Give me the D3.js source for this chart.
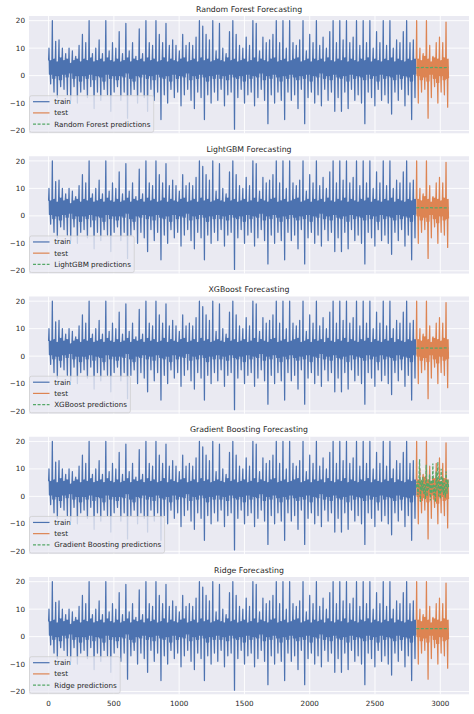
<!DOCTYPE html>
<html>
<head>
<meta charset="utf-8">
<script src="https://cdn.jsdelivr.net/npm/d3@7"></script>
<style>
  body { margin: 0; background: #fff; }
  text { font-family: "DejaVu Sans", sans-serif; fill: #262626; }
</style>
</head>
<body>
<svg width="474" height="714"></svg>
<script>
var models = ["Random Forest", "LightGBM", "XGBoost", "Gradient Boosting", "Ridge"];
var xTicks = [0, 500, 1000, 1500, 2000, 2500, 3000];
var yTicks = [-20, -10, 0, 10, 20];

// train: one row = 10 cycles of the series (spike top, spike bottom, band edges)
var trainUp = [
  10, 20, 12.5, 13, 10, 8, 10, 9, 7, 11,
  15, 12, 20, 8, 10, 13, 8, 20, 9, 12,
  10, 16, 8, 19, 9, 12, 7, 17, 8, 20,
  12, 11, 20, 15, 12, 19, 11, 13, 11, 9,
  15, 11, 12, 11, 14, 20, 18, 15, 13, 20,
  9, 19, 10, 8, 16, 20, 15, 11, 10, 14,
  11, 20, 19, 9, 14, 12, 13, 15, 20, 12,
  20, 10, 20, 12, 11, 13, 20, 9, 15, 12,
  20, 11, 14, 10, 16, 20, 12, 20, 13, 20,
  12, 14, 20, 11, 20, 12, 20, 10, 16, 12,
  20, 11, 20, 10, 13, 12, 16, 20, 12, 13
];
var trainDown = [
  -3, -6, -8, -4, -5, -7, -9, -4, -10, -6,
  -5, -8, -4, -12, -6, -9, -5, -7, -13, -6,
  -4, -9, -6, -15.5, -7, -5, -10, -6, -8, -13,
  -5, -9, -6, -16, -7, -10, -5, -8, -6, -11,
  -7, -5, -9, -12, -6, -8, -16, -7, -10, -6,
  -9, -5, -11, -7, -6, -19.5, -8, -5, -10, -7,
  -6, -11, -8, -5, -9, -17.5, -7, -10, -6, -9,
  -16, -6, -9, -7, -12, -5, -17.5, -8, -6, -10,
  -7, -11, -5, -9, -6, -13, -8, -13, -6, -12,
  -5, -9, -7, -10, -17.5, -6, -8, -11, -5, -9,
  -7, -10, -14, -6, -9, -5, -11, -7, -16, -8
];
var trainHi = [
  5.5, 6, 5, 6.5, 5.5, 6, 4.5, 5.5, 6, 5,
  6, 5.5, 6.5, 5, 5.5, 6, 5, 6.5, 5.5, 5,
  6, 5, 5.5, 6.5, 5, 6, 5.5, 6, 5, 6.5,
  5.5, 6, 5, 5.5, 6.5, 5, 6, 5.5, 5, 6,
  6.5, 5, 5.5, 6, 5, 6.5, 5.5, 6, 5, 5.5,
  6, 5.5, 5, 6.5, 5.5, 6, 5, 5.5, 6, 5,
  5.5, 6.5, 5, 6, 5.5, 5, 6, 6.5, 5, 5.5,
  6, 5, 5.5, 6, 6.5, 5, 5.5, 6, 5, 6,
  5.5, 6, 5, 6.5, 5.5, 5, 6, 5.5, 6.5, 5,
  6, 5.5, 5, 6, 5.5, 6.5, 5, 6, 5.5, 5,
  6, 5.5, 6.5, 5, 6, 5.5, 5, 6, 5.5, 6
];
var trainLo = [
  0.5, -1, 0, -1.5, 0.5, -0.5, 1, -1, 0, -2,
  0, -1, 0.5, -1.5, 0, -0.5, -2, 0.5, -1, 0,
  -1.5, 0, -0.5, 1, -1, -2, 0, -0.5, 0.5, -1,
  0, -1.5, 0.5, -0.5, -1, 0, -2, 0.5, -1, 0,
  -0.5, 1, -1.5, 0, -1, 0.5, -0.5, -2, 0, -1,
  0.5, -1, 0, -1.5, 0.5, -0.5, -1, 0, -2, 0.5,
  -1, 0, -0.5, 1, -1.5, 0, -1, 0.5, -0.5, -2,
  0, -1, 0.5, -0.5, -1.5, 0, -1, 0.5, -2, 0,
  -0.5, 1, -1, 0, -1.5, 0.5, -0.5, -1, 0, -2,
  0.5, -1, 0, -0.5, -1.5, 0.5, -1, 0, -2, 0.5,
  -1, 0, -0.5, -1.5, 0.5, -1, 0, -0.5, -2, 0.5
];

// test: 10 cycles
var testUp = [20, 10, 8, 20, 11, 7, 12, 14, 12, 19.5];
var testDown = [-10, -6, -5, -15.5, -8, -4, -10, -6, -7, -11.5];
var testHi = [6, 5.5, 7, 6, 5, 6.5, 6, 5.5, 6.5, 6];
var testLo = [0, -1.5, -0.5, -2, 0.5, -1, -2.5, 0, -1.5, -1];

// predictions over the test range
var rfPred = [2.9, 2.9, 3.0, 2.9, 2.9, 3.0, 2.9, 2.9, 2.9, 3.0];
var lgbmPred = [2.9, 3.0, 2.9, 2.9, 3.0, 2.9, 2.9, 3.0, 2.9, 2.9];
var xgbPred = [2.9, 2.9, 2.9, 3.0, 2.9, 2.9, 2.9, 2.9, 3.0, 2.9];
var gbPred = [
  3.2, 5.5, 0.5, 4,
  13.5, -2, 6, 2,
  7, 1, 4.5, -1,
  11.5, 0, 5, 2.5,
  8, -1.5, 6, 1,
  12, 0.5, 4, -2,
  9, 2, 12.5, 0,
  6.5, -1, 10, 1.5,
  7, 0.5, 5, -0.5,
  9, 1, 6, 3
];
var ridgePred = [2.9, 2.9, 2.9, 2.9, 2.9, 2.9, 2.9, 2.9, 2.9, 2.9];
var preds = [rfPred, lgbmPred, xgbPred, gbPred, ridgePred];

var trainStart = 0, trainCycle = 25.6;
var testStart = 2816, testCycle = 25, testEnd = 3064;

var blue = "#4c72b0", orange = "#dd8452", green = "#55a868";

var svg = d3.select("svg");
var left = 29, right = 469, panelH = 117.3, step = 140.25, top0 = 16;

var x = d3.scaleLinear().domain([-150, 3220]).range([left, right]);

// each cycle: band edges around one up and one down spike
function cyclePoints(start, len, hi, up, dn, lo) {
  var pts = [];
  for (var k = 0; k < up.length; k++) {
    var x0 = start + k * len, s = len / 8;
    var seq = [hi[k], up[k], lo[k], hi[k], lo[k], dn[k], hi[k], lo[k]];
    seq.forEach(function(v, j) { pts.push([x0 + j * s, v]); });
  }
  return pts;
}

var trainPts = cyclePoints(trainStart, trainCycle, trainHi, trainUp, trainDown, trainLo);
var testPts = cyclePoints(testStart, testCycle, testHi, testUp, testDown, testLo);

models.forEach(function(name, i) {
  var top = top0 + i * step;
  var y = d3.scaleLinear().domain([-21, 21.7]).range([top + panelH, top]);
  var g = svg.append("g");

  g.append("rect")
    .attr("x", left).attr("y", top)
    .attr("width", right - left).attr("height", panelH)
    .attr("fill", "#eaeaf2");

  g.selectAll(".gx").data(xTicks).enter().append("line")
    .attr("x1", function(d) { return x(d); }).attr("x2", function(d) { return x(d); })
    .attr("y1", top).attr("y2", top + panelH)
    .attr("stroke", "#fff").attr("stroke-width", 0.9);
  g.selectAll(".gy").data(yTicks).enter().append("line")
    .attr("x1", left).attr("x2", right)
    .attr("y1", function(d) { return y(d); }).attr("y2", function(d) { return y(d); })
    .attr("stroke", "#fff").attr("stroke-width", 0.9);

  g.selectAll(".yl").data(yTicks).enter().append("text")
    .attr("x", left - 4).attr("y", function(d) { return y(d); })
    .attr("dy", "0.36em").attr("text-anchor", "end")
    .attr("font-size", "7.2px")
    .text(function(d) { return d < 0 ? "\u2212" + (-d) : d; });

  if (i == models.length - 1) {
    g.selectAll(".xl").data(xTicks).enter().append("text")
      .attr("x", function(d) { return x(d); }).attr("y", top + panelH + 12)
      .attr("text-anchor", "middle")
      .attr("font-size", "7.2px")
      .text(function(d) { return d; });
  }

  g.append("text")
    .attr("x", (left + right) / 2).attr("y", top - 4.5)
    .attr("text-anchor", "middle")
    .attr("font-size", "7.8px")
    .text(name + " Forecasting");

  var clipId = "clip" + i;
  g.append("clipPath").attr("id", clipId).append("rect")
    .attr("x", left).attr("y", top).attr("width", right - left).attr("height", panelH);

  var line = d3.line()
    .x(function(d) { return x(d[0]); })
    .y(function(d) { return y(d[1]); });

  var plot = g.append("g").attr("clip-path", "url(#" + clipId + ")");
  plot.append("path").datum(trainPts)
    .attr("d", line).attr("fill", "none")
    .attr("stroke", blue).attr("stroke-width", 1.25).attr("stroke-linejoin", "round");
  plot.append("path").datum(testPts)
    .attr("d", line).attr("fill", "none")
    .attr("stroke", orange).attr("stroke-width", 1.25).attr("stroke-linejoin", "round");

  var p = preds[i];
  var pStep = (testEnd - testStart) / (p.length - 1);
  var predPts = p.map(function(v, j) { return [testStart + j * pStep, v]; });
  plot.append("path").datum(predPts)
    .attr("d", line).attr("fill", "none")
    .attr("stroke", green).attr("stroke-width", 1.2)
    .attr("stroke-dasharray", "3,1.6");

  // legend
  var labels = [["train", blue, false], ["test", orange, false], [name + " predictions", green, true]];
  var lg = g.append("g");
  var box = lg.append("rect");
  var maxW = 0;
  labels.forEach(function(l, j) {
    var cy = 6 + j * 11.2;
    lg.append("line")
      .attr("x1", 3.5).attr("x2", 20).attr("y1", cy).attr("y2", cy)
      .attr("stroke", l[1]).attr("stroke-width", 1.2)
      .attr("stroke-dasharray", l[2] ? "3,1.6" : null);
    var t = lg.append("text")
      .attr("x", 24.7).attr("y", cy).attr("dy", "0.35em")
      .attr("font-size", "7.2px")
      .text(l[0]);
    maxW = Math.max(maxW, t.node().getComputedTextLength());
  });
  var boxH = 36.6;
  box.attr("x", 0).attr("y", 0).attr("width", maxW + 28).attr("height", boxH)
    .attr("rx", 2).attr("fill", "#eaeaf2").attr("fill-opacity", 0.8)
    .attr("stroke", "#cccccc").attr("stroke-width", 0.7);
  lg.attr("transform", "translate(" + (left + 0.5) + "," + (top + panelH - boxH - 1) + ")");
});
</script>
</body>
</html>
